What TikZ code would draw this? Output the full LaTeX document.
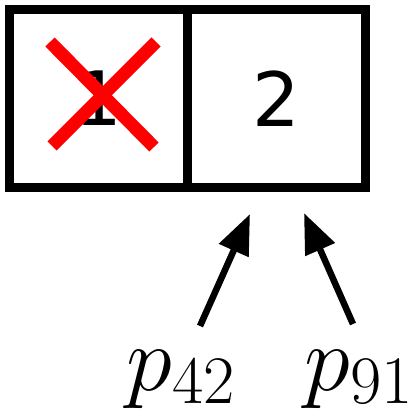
\RequirePackage{fix-cm}
\documentclass[tikz,border=0pt]{standalone}
\usepackage{fontspec}
\newfontfamily\dejavu{DejaVu Sans}
\DeclareMathSizes{93}{93}{68}{50}
\usetikzlibrary{arrows.meta}
\tikzset{
  cell/.style={draw=black, line width=8.5pt, minimum width=178pt, minimum height=178pt, inner sep=0pt, font=\dejavu\fontsize{75}{90}\selectfont},
  cross/.style={draw=red, line width=13pt},
  arr/.style={line width=6.5pt, -{Triangle[length=40pt,width=31pt]}},
  lab/.style={inner sep=0pt, anchor=base, font=\fontsize{93}{110}\selectfont}
}
\begin{document}
\begin{tikzpicture}[x=1pt,y=-1pt]
\useasboundingbox (0,0) rectangle (417,411);
\node[cell] (b1) at (98.5,98.5) {1};
\node[cell] (b2) at (276.25,98.5) {2};
\draw[cross] (50,42) -- (154,147);
\draw[cross] (156,42) -- (52,146);
\node[lab] (l1) at (181,390) {$p_{42}$};
\node[lab] (l2) at (359,390) {$p_{91}$};
\coordinate (s1) at (200,326);
\coordinate (t1) at (250,214);
\coordinate (s2) at (353,324);
\coordinate (t2) at (304,213);
\draw[arr] (s1) -- (t1);
\draw[arr] (s2) -- (t2);
\end{tikzpicture}
\end{document}
